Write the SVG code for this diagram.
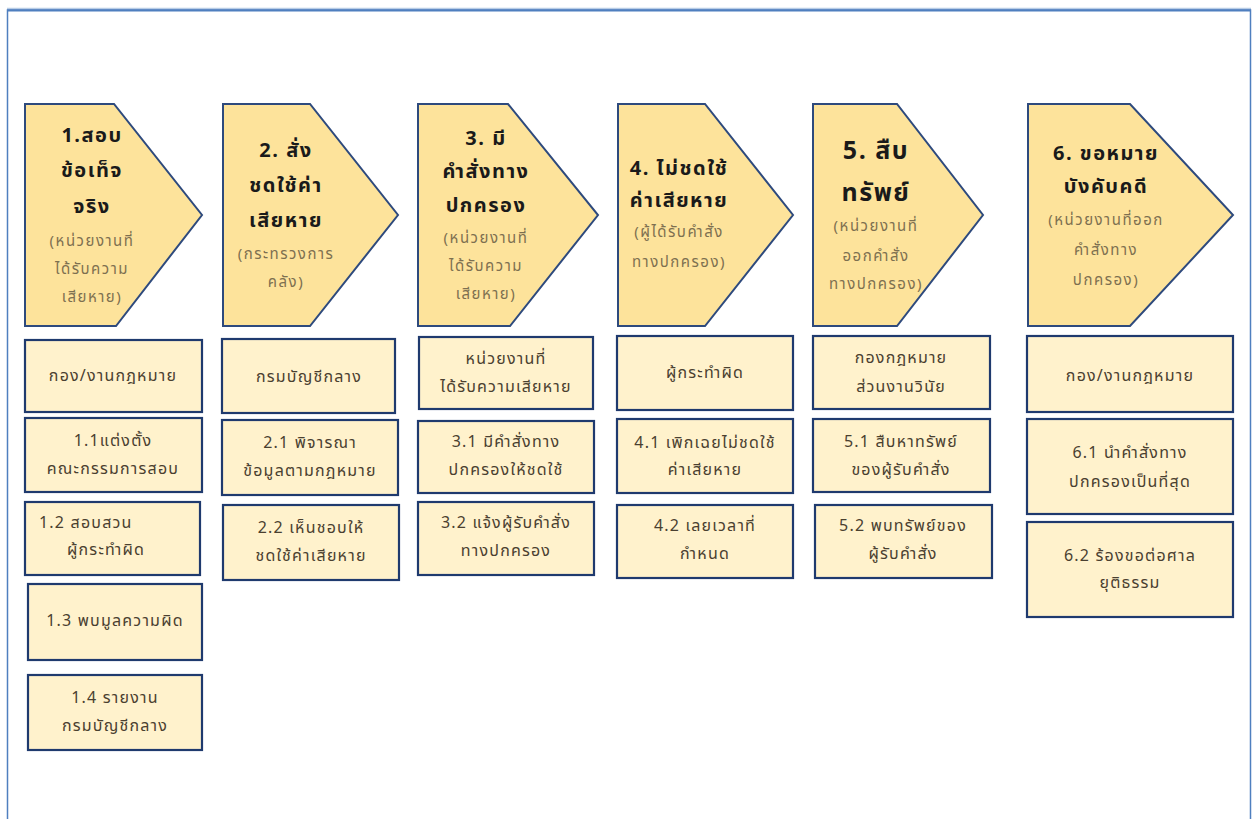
<svg xmlns="http://www.w3.org/2000/svg" width="1258" height="819" viewBox="0 0 1258 819">
<style>
.frame{fill:none;stroke:#4f7fbf;stroke-width:1.5}
.chev{fill:#FDE39B;stroke:#2E4A7D;stroke-width:2}
.box{fill:#FFF2CC;stroke:#1F3A6E;stroke-width:2.2}
text{font-family:"Noto Sans Thai","Noto Sans","DejaVu Sans",sans-serif;text-anchor:middle}
.t{font-size:20px;font-weight:bold;fill:#1a1a1a;letter-spacing:1.5px}
.t5{font-size:25px;font-weight:bold;fill:#1a1a1a;letter-spacing:1.5px}
.s{font-size:15px;fill:#7d7050;letter-spacing:1.5px}
.b{font-size:16px;fill:#4a4030;letter-spacing:1.2px}
</style>
<rect x="0" y="0" width="1258" height="819" fill="#ffffff"/>
<line x1="7" y1="8.5" x2="1251" y2="8.5" stroke="#b9cde6" stroke-width="1.5"/>
<rect class="frame" x="7.5" y="10" width="1243" height="830"/>
<line x1="7" y1="10.5" x2="1251" y2="10.5" stroke="#4f7fbf" stroke-width="2"/>

<g id="step1">
<polygon class="chev" points="25,104 114,104 202,215 116,326 25,326"/>
<text class="t" x="92" y="142">1.สอบ</text>
<text class="t" x="92" y="177">ข้อเท็จ</text>
<text class="t" x="92" y="213">จริง</text>
<text class="s" x="92" y="246">(หน่วยงานที่</text>
<text class="s" x="92" y="274">ได้รับความ</text>
<text class="s" x="92" y="302">เสียหาย)</text>
</g>
<g id="step2">
<polygon class="chev" points="223,104 310,104 398,215 310,326 223,326"/>
<text class="t" x="286" y="157">2. สั่ง</text>
<text class="t" x="286" y="192">ชดใช้ค่า</text>
<text class="t" x="286" y="227">เสียหาย</text>
<text class="s" x="286" y="259">(กระทรวงการ</text>
<text class="s" x="286" y="287">คลัง)</text>
</g>
<g id="step3">
<polygon class="chev" points="418,104 508,104 598,215 510,326 418,326"/>
<text class="t" x="486" y="145">3. มี</text>
<text class="t" x="486" y="178">คำสั่งทาง</text>
<text class="t" x="486" y="212">ปกครอง</text>
<text class="s" x="486" y="243">(หน่วยงานที่</text>
<text class="s" x="486" y="271">ได้รับความ</text>
<text class="s" x="486" y="299">เสียหาย)</text>
</g>
<g id="step4">
<polygon class="chev" points="618,104 705,104 793,215 705,326 618,326"/>
<text class="t" x="679" y="175">4. ไม่ชดใช้</text>
<text class="t" x="679" y="207">ค่าเสียหาย</text>
<text class="s" x="679" y="237">(ผู้ได้รับคำสั่ง</text>
<text class="s" x="679" y="267">ทางปกครอง)</text>
</g>
<g id="step5">
<polygon class="chev" points="813,104 897,104 983,215 897,326 813,326"/>
<text class="t5" x="876" y="159">5. สืบ</text>
<text class="t5" x="876" y="201">ทรัพย์</text>
<text class="s" x="876" y="231">(หน่วยงานที่</text>
<text class="s" x="876" y="261">ออกคำสั่ง</text>
<text class="s" x="876" y="289">ทางปกครอง)</text>
</g>
<g id="step6">
<polygon class="chev" points="1028,104 1130,104 1233,215 1130,326 1028,326"/>
<text class="t" x="1106" y="160">6. ขอหมาย</text>
<text class="t" x="1106" y="193">บังคับคดี</text>
<text class="s" x="1106" y="225">(หน่วยงานที่ออก</text>
<text class="s" x="1106" y="255">คำสั่งทาง</text>
<text class="s" x="1106" y="285">ปกครอง)</text>
</g>

<g id="box1-0"><rect class="box" x="25" y="340" width="177" height="72"/><text class="b" x="113" y="381">กอง/งานกฎหมาย</text></g>
<g id="box1-1"><rect class="box" x="25" y="418" width="177" height="74"/><text class="b" x="113" y="446">1.1แต่งตั้ง</text><text class="b" x="113" y="474">คณะกรรมการสอบ</text></g>
<g id="box1-2"><rect class="box" x="25" y="502" width="175" height="73"/><text class="b" x="39" y="528" style="text-anchor:start">1.2 สอบสวน</text><text class="b" x="67" y="555" style="text-anchor:start">ผู้กระทำผิด</text></g>
<g id="box1-3"><rect class="box" x="28" y="584" width="174" height="76"/><text class="b" x="115" y="626">1.3 พบมูลความผิด</text></g>
<g id="box1-4"><rect class="box" x="28" y="675" width="174" height="75"/><text class="b" x="115" y="703">1.4 รายงาน</text><text class="b" x="115" y="731">กรมบัญชีกลาง</text></g>

<g id="box2-0"><rect class="box" x="222" y="339" width="173" height="74"/><text class="b" x="309" y="382">กรมบัญชีกลาง</text></g>
<g id="box2-1"><rect class="box" x="222" y="420" width="176" height="75"/><text class="b" x="310" y="448">2.1 พิจารณา</text><text class="b" x="310" y="476">ข้อมูลตามกฎหมาย</text></g>
<g id="box2-2"><rect class="box" x="223" y="505" width="176" height="75"/><text class="b" x="311" y="533">2.2 เห็นชอบให้</text><text class="b" x="311" y="561">ชดใช้ค่าเสียหาย</text></g>

<g id="box3-0"><rect class="box" x="419" y="337" width="174" height="72"/><text class="b" x="506" y="364">หน่วยงานที่</text><text class="b" x="506" y="392">ได้รับความเสียหาย</text></g>
<g id="box3-1"><rect class="box" x="418" y="421" width="176" height="72"/><text class="b" x="506" y="447">3.1 มีคำสั่งทาง</text><text class="b" x="506" y="475">ปกครองให้ชดใช้</text></g>
<g id="box3-2"><rect class="box" x="418" y="502" width="176" height="73"/><text class="b" x="506" y="528">3.2 แจ้งผู้รับคำสั่ง</text><text class="b" x="506" y="556">ทางปกครอง</text></g>

<g id="box4-0"><rect class="box" x="617" y="336" width="176" height="74"/><text class="b" x="705" y="378">ผู้กระทำผิด</text></g>
<g id="box4-1"><rect class="box" x="617" y="419" width="176" height="74"/><text class="b" x="705" y="448">4.1 เพิกเฉยไม่ชดใช้</text><text class="b" x="705" y="475">ค่าเสียหาย</text></g>
<g id="box4-2"><rect class="box" x="617" y="505" width="176" height="73"/><text class="b" x="705" y="531">4.2 เลยเวลาที่</text><text class="b" x="705" y="559">กำหนด</text></g>

<g id="box5-0"><rect class="box" x="813" y="336" width="177" height="73"/><text class="b" x="901" y="363">กองกฎหมาย</text><text class="b" x="901" y="392">ส่วนงานวินัย</text></g>
<g id="box5-1"><rect class="box" x="813" y="419" width="177" height="73"/><text class="b" x="901" y="447">5.1 สืบหาทรัพย์</text><text class="b" x="901" y="475">ของผู้รับคำสั่ง</text></g>
<g id="box5-2"><rect class="box" x="815" y="505" width="177" height="73"/><text class="b" x="903" y="531">5.2 พบทรัพย์ของ</text><text class="b" x="903" y="559">ผู้รับคำสั่ง</text></g>

<g id="box6-0"><rect class="box" x="1027" y="336" width="206" height="76"/><text class="b" x="1130" y="381">กอง/งานกฎหมาย</text></g>
<g id="box6-1"><rect class="box" x="1027" y="419" width="206" height="95"/><text class="b" x="1130" y="458">6.1 นำคำสั่งทาง</text><text class="b" x="1130" y="487">ปกครองเป็นที่สุด</text></g>
<g id="box6-2"><rect class="box" x="1027" y="522" width="206" height="95"/><text class="b" x="1130" y="561">6.2 ร้องขอต่อศาล</text><text class="b" x="1130" y="588">ยุติธรรม</text></g>

<g id="connectors"></g>
</svg>
